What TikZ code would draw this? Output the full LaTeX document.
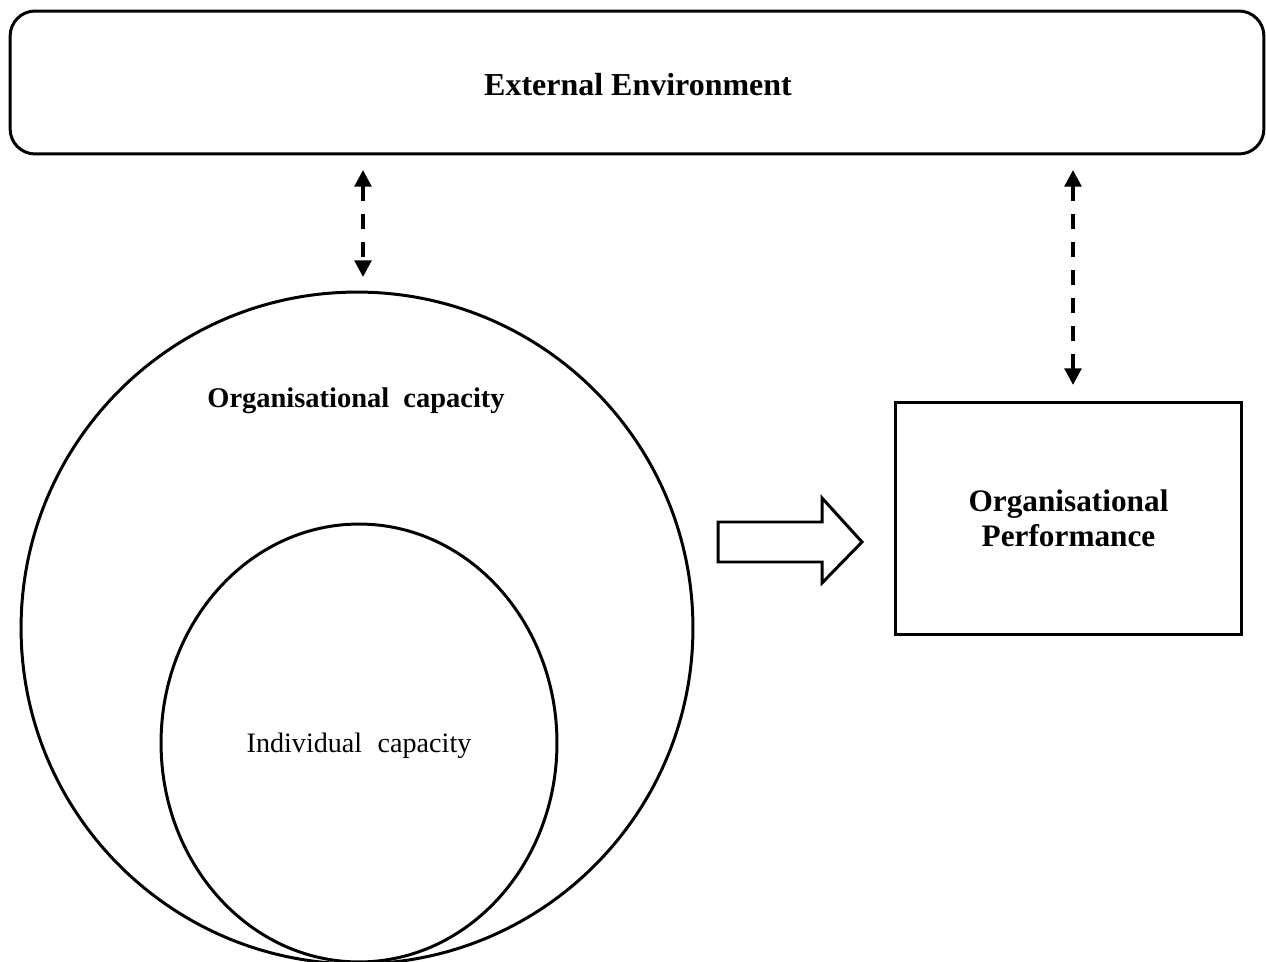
\documentclass[tikz,border=0pt]{standalone}
\usepackage{fontspec}
\setmainfont{Liberation Serif}
\usetikzlibrary{arrows.meta,shapes.geometric}

\tikzset{
  outline/.style={draw=black, line width=1.7pt},
  envbox/.style={outline, rounded corners=0.5cm, minimum width=25.08cm, minimum height=2.86cm, inner sep=0pt},
  perfbox/.style={outline, minimum width=6.94cm, minimum height=4.66cm, inner sep=0pt, align=center},
  link/.style={line width=2.1pt, dash pattern=on 8.5pt off 7.5pt,
    {Triangle[length=9.5pt,width=9.5pt]}-{Triangle[length=9.5pt,width=9.5pt]}},
  boldlabel/.style={font=\fontsize{16.2}{19}\selectfont\bfseries},
  plainlabel/.style={font=\fontsize{16}{19}\selectfont},
}

\begin{document}
\begin{tikzpicture}[x=0.02cm, y=-0.02cm]
  \clip (0,0) rectangle (1266,962);
  \useasboundingbox (0,0) rectangle (1266,962);

  % external environment band
  \node[envbox] (env) at (637,82.5) {};
  \node[font=\fontsize{18.2}{22}\selectfont\bfseries] (envtext) at (638,85) {External Environment};

  % organisational capacity (outer circle) and individual capacity (inner ellipse)
  \node[outline, circle, minimum size=13.44cm, inner sep=0pt] (orgcap) at (357,628) {};
  \node[outline, ellipse, minimum width=7.92cm, minimum height=8.76cm, inner sep=0pt] (indcap) at (359,743) {};
  \node[boldlabel] (orgtext) at (356,401) {Organisational\hspace{0.5em}capacity};
  \node[plainlabel] (indtext) at (359,746) {Individual\hspace{0.55em}capacity};

  % organisational performance
  \node[perfbox, font=\fontsize{17.8}{20}\selectfont\bfseries] (perf) at (1068.5,518.5) {Organisational\\Performance};

  % two-way dashed links to the environment
  \coordinate (l1a) at (363,170);
  \coordinate (l1b) at (363,277);
  \coordinate (l2a) at (1073,170);
  \coordinate (l2b) at (1073,385);
  \draw[link] (l1a) -- (l1b);
  \draw[link] (l2a) -- (l2b);

  % block arrow from capacity to performance
  \draw[outline, line join=miter]
    (718,522) -- (822,522) -- (822,498) -- (862,542) -- (822,583)
    -- (822,562) -- (718,562) -- cycle;
\end{tikzpicture}
\end{document}
